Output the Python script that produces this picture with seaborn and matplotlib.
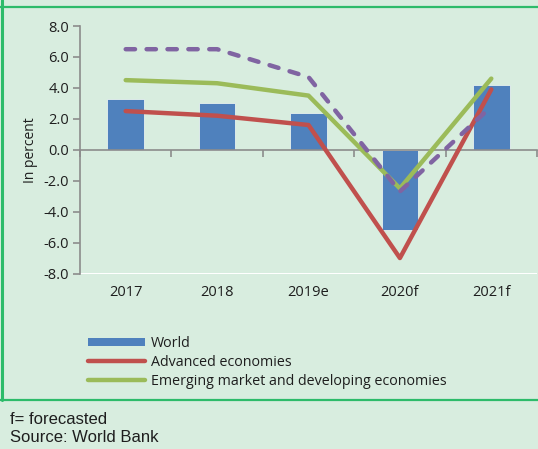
import numpy as np
import matplotlib
matplotlib.use("Agg")
import matplotlib.pyplot as plt
import seaborn as sns
from matplotlib.patches import Patch
from matplotlib.lines import Line2D

# Chart data
years = ["2017", "2018", "2019e", "2020f", "2021f"]
world = [3.3, 3.0, 2.4, -5.2, 4.2]
advanced = [2.5, 2.2, 1.6, -7.0, 3.9]
emde = [4.5, 4.3, 3.5, -2.5, 4.6]
south_asia = [6.5, 6.5, 4.7, -2.7, 2.8]
y_ticks = [-8, -6, -4, -2, 0, 2, 4, 6, 8]

BG = "#d8eddf"
BORDER = "#2dbb6a"
BLUE = "#4f81bd"
RED = "#c0504d"
GREEN = "#9bbb59"
PURPLE = "#8064a2"
TXT = "#1e1e1e"

sns.set_style("white")
plt.rcParams["font.family"] = ["Open Sans", "DejaVu Sans"]
plt.rcParams["axes.unicode_minus"] = False

fig = plt.figure(figsize=(5.38, 4.49), dpi=100, facecolor=BG)
ax = fig.add_axes([80 / 538, 1 - 273.5 / 449, 457 / 538, 247.5 / 449])
ax.set_facecolor(BG)

x = np.arange(len(years))
sns.barplot(x=x, y=world, color=BLUE, width=0.4, saturation=1, ax=ax,
            native_scale=True, zorder=2, edgecolor="#e8f2ee", linewidth=0.6)
sns.lineplot(x=x, y=advanced, color=RED, lw=3.2, ax=ax, zorder=3,
             solid_capstyle="round", solid_joinstyle="round")
sns.lineplot(x=x, y=emde, color=GREEN, lw=3.2, ax=ax, zorder=4,
             solid_capstyle="round", solid_joinstyle="round")
sns.lineplot(x=x, y=south_asia, color=PURPLE, lw=3.2, ax=ax, zorder=5,
             dashes=False)
ax.lines[-1].set_linestyle((0, (2.1, 2.6)))
ax.lines[-1].set_dash_capstyle("round")

ax.set_xlim(-0.5, 4.5)
ax.set_ylim(-8, 8)
ax.set_yticks(y_ticks)
ax.set_yticklabels([f"{v:.1f}" for v in y_ticks])
ax.set_ylabel("In percent", fontsize=10, color=TXT, labelpad=4)
ax.set_xlabel("")

for s in ["top", "right"]:
    ax.spines[s].set_visible(False)
ax.spines["left"].set_color("#8c8c8c")
ax.spines["bottom"].set_color("#8c8c8c")
ax.spines["left"].set_linewidth(1.2)
ax.spines["bottom"].set_linewidth(1.2)
ax.spines["bottom"].set_position(("data", 0))

ax.tick_params(axis="y", direction="out", length=5, width=1.2, color="#8c8c8c",
               labelsize=10.5, labelcolor=TXT, pad=3, left=True)
ax.set_xticks([])
ax.set_xticks(np.arange(-0.5, 5, 1), minor=True)
ax.tick_params(axis="x", which="minor", direction="out", length=5, width=1.2,
               color="#8c8c8c", bottom=True)

sec = ax.secondary_xaxis(0.0)
sec.set_xticks(x)
sec.set_xticklabels(years)
sec.tick_params(axis="x", length=0, labelsize=10.5, labelcolor=TXT, pad=8)
sec.spines["bottom"].set_visible(False)

handles = [
    Patch(facecolor=BLUE, edgecolor="none"),
    Line2D([], [], color=RED, lw=3.2, solid_capstyle="round"),
    Line2D([], [], color=GREEN, lw=3.2, solid_capstyle="round"),
]
labels = ["World", "Advanced economies", "Emerging market and developing economies"]
fig.legend(handles, labels, loc="upper left", bbox_to_anchor=(88 / 538, 1 - 336 / 449),
           frameon=False, fontsize=10.3, handlelength=4.0, handleheight=0.55,
           handletextpad=0.4, labelspacing=0.27, borderpad=0, borderaxespad=0,
           labelcolor=TXT)

# frame lines
fig.add_artist(Line2D([0, 1], [1 - 6.5 / 449] * 2, color=BORDER, lw=1.6,
                      transform=fig.transFigure))
fig.add_artist(Line2D([0, 1], [1 - 400 / 449] * 2, color=BORDER, lw=1.6,
                      transform=fig.transFigure))
fig.add_artist(Line2D([1.5 / 538] * 2, [1 - 400 / 449, 1], color=BORDER, lw=2.2,
                      transform=fig.transFigure))

fig.text(10 / 538, 1 - 419 / 449, "f= forecasted", fontsize=12,
         family="Liberation Sans", color=TXT, va="center")
fig.text(10 / 538, 1 - 438 / 449, "Source: World Bank", fontsize=12,
         family="Liberation Sans", color=TXT, va="center")

fig.savefig("out.png", dpi=100, facecolor=BG)
